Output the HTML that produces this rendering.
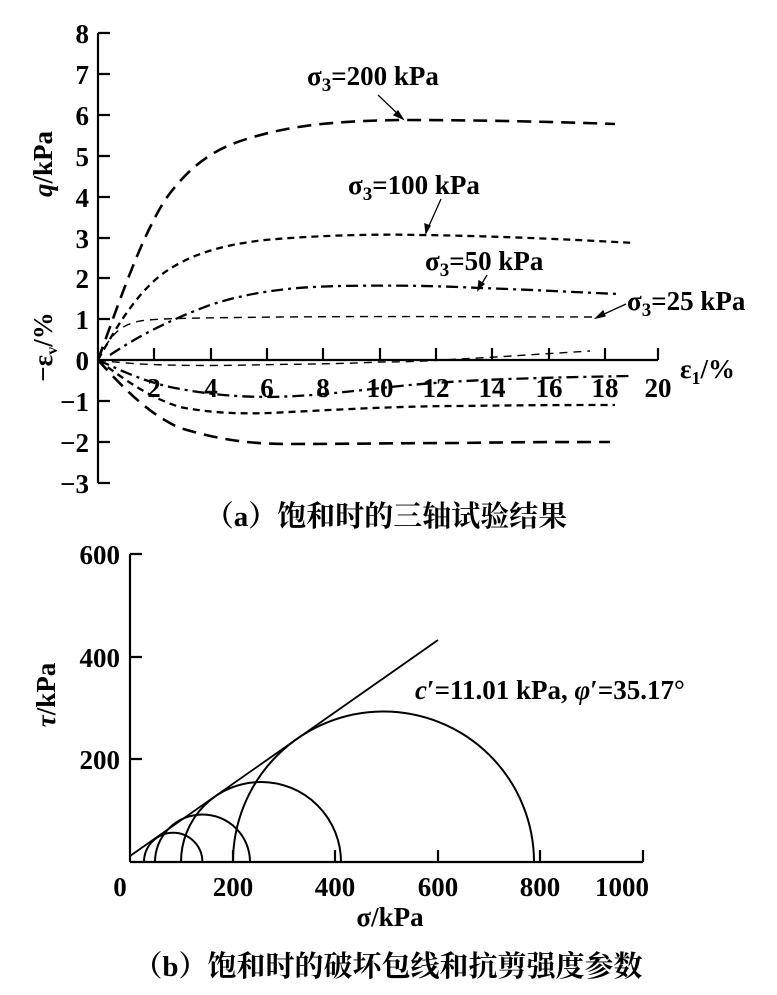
<!DOCTYPE html>
<html><head><meta charset="utf-8"><style>
html,body{margin:0;padding:0;background:#fff;}
svg{display:block;}
text{font-family:"Liberation Serif","Noto Serif CJK SC",serif;fill:#000;font-weight:bold;}
</style></head><body>
<svg width="777" height="995" viewBox="0 0 777 995" xmlns="http://www.w3.org/2000/svg">
<g stroke="#000" stroke-width="2.2" fill="none">
<line x1="98" y1="33" x2="98" y2="483"/>
<line x1="98" y1="360" x2="658" y2="360"/>
<path d="M98 33h12M98 74h12M98 115h12M98 156h12M98 197h12M98 238h12M98 278h12M98 319h12M98 401h12M98 442h12M98 483h12"/>
<path d="M154 360v-12M211 360v-12M267 360v-12M323 360v-12M380 360v-12M436 360v-12M492 360v-12M549 360v-12M605 360v-12M658 360v-12"/>
</g>
<g font-size="27" text-anchor="end">
<text x="89" y="43">8</text><text x="89" y="84">7</text><text x="89" y="125">6</text><text x="89" y="166">5</text><text x="89" y="207">4</text><text x="89" y="248">3</text><text x="89" y="288">2</text><text x="89" y="329">1</text><text x="89" y="370">0</text><text x="89" y="411">−1</text><text x="89" y="452">−2</text><text x="89" y="493">−3</text>
</g>
<g font-size="27" text-anchor="middle">
<text x="154" y="397">2</text><text x="211" y="397">4</text><text x="267" y="397">6</text><text x="323" y="397">8</text><text x="380" y="397">10</text><text x="436" y="397">12</text><text x="492" y="397">14</text><text x="549" y="397">16</text><text x="605" y="397">18</text><text x="658" y="397">20</text>
</g>
<text x="680" y="378" font-size="27">ε<tspan font-size="18" dy="6">1</tspan><tspan dy="-6">/%</tspan></text>
<text transform="translate(52,164) rotate(-90)" font-size="27" text-anchor="middle"><tspan font-style="italic">q</tspan>/kPa</text>
<text transform="translate(52,347) rotate(-90)" font-size="27" text-anchor="middle">−ε<tspan font-size="16" dy="5">v</tspan><tspan dy="-5">/%</tspan></text>
<g fill="none" stroke="#000">
<path stroke-width="2.6" stroke-dasharray="14,8" d="M98 360 C120 300,140 240,165 200 C190 165,215 148,250 138 C290 126,330 121,400 120 C480 120,560 122,615 124"/>
<path stroke-width="2.3" stroke-dasharray="7,5" d="M98 360 C120 320,140 290,165 272 C190 255,220 245,265 240 C320 235,380 234,420 235 C500 236,580 240,635 243"/>
<path stroke-width="2.3" stroke-dasharray="12,5,3,5" d="M110 355 C140 335,170 320,210 305 C250 292,290 287,340 286 C400 285,440 286,480 288 C540 290,590 293,620 294"/>
<path stroke-width="1.4" stroke-dasharray="8,6" d="M98 360 C110 335,120 325,140 321 C160 318,200 318,280 317 C400 316,500 317,600 317"/>
<path stroke-width="1.4" stroke-dasharray="8,6" d="M98 360 C140 366,200 366,250 365 C300 364,340 364,380 362 C420 362,440 360,460 359 C500 357,540 354,590 351"/>
<path stroke-width="2.3" stroke-dasharray="12,5,3,5" d="M98 360 C120 370,140 380,170 387 C200 393,230 397,270 397 C320 396,360 390,400 386 C460 380,520 378,630 376"/>
<path stroke-width="2.3" stroke-dasharray="7,5" d="M98 360 C125 380,150 398,180 407 C210 413,240 414,270 413 C330 410,400 406,460 406 C530 405,580 405,615 405"/>
<path stroke-width="2.6" stroke-dasharray="14,8" d="M98 360 C125 390,150 415,180 428 C220 440,250 444,290 444 C350 444,400 443,460 443 C520 442,570 442,610 442"/>
</g>
<g font-size="27">
<text x="307" y="85">σ<tspan font-size="19" dy="6">3</tspan><tspan dy="-6">=200 kPa</tspan></text>
<text x="348" y="194">σ<tspan font-size="19" dy="6">3</tspan><tspan dy="-6">=100 kPa</tspan></text>
<text x="425" y="270">σ<tspan font-size="19" dy="6">3</tspan><tspan dy="-6">=50 kPa</tspan></text>
<text x="627" y="310">σ<tspan font-size="19" dy="6">3</tspan><tspan dy="-6">=25 kPa</tspan></text>
</g>
<g stroke="#000" stroke-width="1.3" fill="#000">
<line x1="378" y1="95" x2="400" y2="116"/><path d="M403 119 l-9 -4 4 -4z"/>
<line x1="441" y1="199" x2="428" y2="228"/><path d="M426 233 l-1 -9 5 2z"/>
<line x1="487" y1="275" x2="481" y2="285"/><path d="M478 290 l1 -9 5 3z"/>
<line x1="626" y1="304" x2="602" y2="315"/><path d="M596 318 l7 -7 2 5z"/>
</g>
<text x="386" y="526" font-size="29" text-anchor="middle">（a）饱和时的三轴试验结果</text>

<g stroke="#000" stroke-width="2.2" fill="none">
<line x1="130" y1="554" x2="130" y2="862"/>
<line x1="130" y1="862" x2="643" y2="862"/>
<path d="M130 554h12M130 657h12M130 759h12"/>
<path d="M233 862v-12M335 862v-12M438 862v-12M540 862v-12M643 862v-12"/>
<line x1="130" y1="856" x2="438" y2="640" stroke-width="1.8"/>
<path d="M144 862 A28.7 28.7 0 0 1 202.4 862" stroke-width="2"/>
<path d="M155 862 A47.2 47.2 0 0 1 250 862" stroke-width="2"/>
<path d="M181 862 A79.5 79.5 0 0 1 341 862" stroke-width="2"/>
<path d="M233 862 A150.3 150.3 0 0 1 534 862" stroke-width="2"/>
</g>
<g font-size="27" text-anchor="end">
<text x="120" y="564">600</text><text x="120" y="667">400</text><text x="120" y="769">200</text>
</g>
<g font-size="27" text-anchor="middle">
<text x="120" y="896">0</text><text x="233" y="896">200</text><text x="335" y="896">400</text><text x="438" y="896">600</text><text x="540" y="896">800</text><text x="622" y="896">1000</text>
</g>
<text x="390" y="926" font-size="27" text-anchor="middle">σ/kPa</text>
<text transform="translate(55,695) rotate(-90)" font-size="27" text-anchor="middle"><tspan font-style="italic">τ</tspan>/kPa</text>
<text x="415" y="699" font-size="27"><tspan font-style="italic">c</tspan>′=11.01 kPa, <tspan font-style="italic">φ</tspan>′=35.17°</text>
<text x="388" y="976" font-size="29" text-anchor="middle">（b）饱和时的破坏包线和抗剪强度参数</text>
</svg>
</body></html>
